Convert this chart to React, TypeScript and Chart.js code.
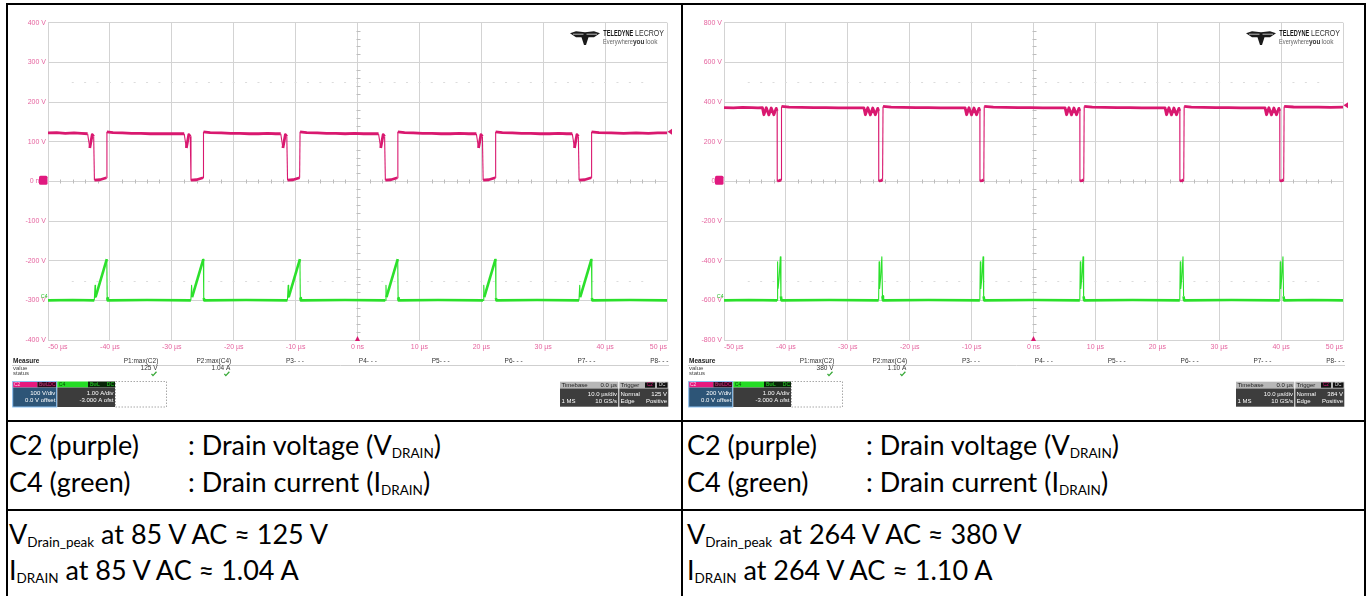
import React, { useEffect, useRef } from 'react';
import { Chart, registerables } from 'chart.js';

Chart.register(...registerables);

// ---------------- DATA ----------------
const timeTickLabels = ['-50 µs', '-40 µs', '-30 µs', '-20 µs', '-10 µs', '0 ns', '10 µs', '20 µs', '30 µs', '40 µs', '50 µs'];
const voltTickLabels85 = ['-400 V', '-300 V', '-200 V', '-100 V', '0 mV', '100 V', '200 V', '300 V', '400 V'];
const voltTickLabels264 = ['-800 V', '-600 V', '-400 V', '-200 V', '0 V', '200 V', '400 V', '600 V', '800 V'];

// C2 drain voltage at 85 V AC  [time µs, volts]
const drainV85: [number, number][] = [
  [-50, 122], [-48.6, 123], [-47.2, 121], [-45.8, 122], [-44.6, 121],
  [-43.6, 120], [-43.25, 84], [-42.85, 118], [-42.62, 113], [-42.5, 3], [-41.6, 4], [-40.55, 9], [-40.48, 125],
  [-39.5, 123], [-38, 122], [-36.5, 121], [-35, 121], [-33.5, 120], [-32, 120], [-30.5, 120], [-29, 120],
  [-28.0, 120], [-27.65, 84], [-27.25, 118], [-27.02, 113], [-26.9, 3], [-26.0, 4], [-24.95, 9], [-24.88, 125],
  [-23.8, 123], [-22, 122], [-20.5, 121], [-19, 121], [-17.5, 120], [-16, 120], [-14.5, 121], [-13.2, 120],
  [-12.4, 120], [-12.05, 84], [-11.65, 118], [-11.42, 113], [-11.3, 3], [-10.4, 4], [-9.35, 9], [-9.28, 125],
  [-8.2, 123], [-6.5, 122], [-5, 121], [-3.5, 121], [-2, 120], [-0.5, 121], [1, 120], [2.4, 120],
  [3.4, 120], [3.75, 84], [4.15, 118], [4.38, 113], [4.5, 3], [5.4, 4], [6.45, 9], [6.52, 125],
  [7.6, 123], [9, 122], [10.5, 121], [12, 121], [13.5, 120], [15, 120], [16.5, 121], [18, 120],
  [19.2, 120], [19.55, 84], [19.95, 118], [20.18, 113], [20.3, 3], [21.2, 4], [22.25, 9], [22.32, 125],
  [23.4, 123], [25, 122], [26.5, 121], [28, 121], [29.5, 120], [31, 120], [32.5, 121], [33.8, 120],
  [34.7, 120], [35.05, 84], [35.45, 118], [35.68, 113], [35.8, 3], [36.7, 4], [37.75, 9], [37.82, 125],
  [39, 123], [41, 122], [43, 121], [45, 122], [47, 121], [48.5, 122], [50, 122],
];

// C4 drain current at 85 V AC  [time µs, amps]
const drainI85: [number, number][] = [
  [-50, 0], [-46, 0.01], [-42.52, 0],
  [-42.4, 0.38], [-42.32, 0.08], [-40.5, 1.04], [-40.44, 0.06], [-40.35, 0],
  [-34, 0.01], [-26.92, 0],
  [-26.8, 0.38], [-26.72, 0.08], [-24.9, 1.04], [-24.84, 0.06], [-24.75, 0],
  [-18, 0.01], [-11.32, 0],
  [-11.2, 0.38], [-11.12, 0.08], [-9.3, 1.04], [-9.24, 0.06], [-9.15, 0],
  [-2, 0.01], [4.48, 0],
  [4.6, 0.38], [4.68, 0.08], [6.5, 1.04], [6.56, 0.06], [6.65, 0],
  [13, 0.01], [20.28, 0],
  [20.4, 0.38], [20.48, 0.08], [22.3, 1.04], [22.36, 0.06], [22.45, 0],
  [29, 0.01], [35.78, 0],
  [35.9, 0.38], [35.98, 0.08], [37.8, 1.04], [37.86, 0.06], [37.95, 0],
  [44, 0.01], [50, 0],
];

// C2 drain voltage at 264 V AC  [time µs, volts]
const drainV264: [number, number][] = [
  [-50, 372], [-48.5, 371], [-47, 373], [-45.5, 372], [-44.5, 371],
  [-43.8, 372], [-43.56, 336], [-43.17, 371], [-42.75, 335], [-42.37, 370], [-41.95, 336], [-41.56, 368], [-41.42, 355], [-41.4, 2], [-41.0, 4], [-40.78, 8], [-40.71, 378],
  [-39.5, 374], [-37.5, 373], [-35.5, 372], [-33.5, 372], [-31.5, 371], [-29.5, 371],
  [-27.4, 371], [-27.16, 336], [-26.77, 371], [-26.35, 335], [-25.97, 370], [-25.55, 336], [-25.16, 368], [-25.02, 355], [-25.0, 2], [-24.6, 4], [-24.38, 8], [-24.31, 378],
  [-23, 374], [-21, 373], [-19, 372], [-17, 372], [-15, 371], [-13, 371],
  [-11.05, 371], [-10.81, 336], [-10.42, 371], [-10.0, 335], [-9.62, 370], [-9.2, 336], [-8.81, 368], [-8.67, 355], [-8.65, 2], [-8.25, 4], [-8.03, 8], [-7.96, 378],
  [-6.5, 374], [-4.5, 373], [-2.5, 372], [-0.5, 372], [1.5, 371], [3.5, 371],
  [5.1, 371], [5.34, 336], [5.73, 371], [6.15, 335], [6.53, 370], [6.95, 336], [7.34, 368], [7.48, 355], [7.5, 2], [7.9, 4], [8.12, 8], [8.19, 378],
  [9.5, 374], [11.5, 373], [13.5, 372], [15.5, 372], [17.5, 371], [19.5, 371],
  [21.25, 371], [21.49, 336], [21.88, 371], [22.3, 335], [22.68, 370], [23.1, 336], [23.49, 368], [23.63, 355], [23.65, 2], [24.05, 4], [24.27, 8], [24.34, 378],
  [25.5, 374], [27.5, 373], [29.5, 372], [31.5, 372], [33.5, 371], [35.5, 371],
  [37.4, 371], [37.64, 336], [38.03, 371], [38.45, 335], [38.83, 370], [39.25, 336], [39.64, 368], [39.78, 355], [39.8, 2], [40.2, 4], [40.42, 8], [40.49, 378],
  [42, 375], [44, 374], [46, 374], [48, 373], [50, 374],
];

// C4 drain current at 264 V AC  [time µs, amps]
const drainI264: [number, number][] = [
  [-50, 0], [-46, 0.01], [-41.42, 0],
  [-41.34, 0.97], [-41.26, 0.3], [-41.1, 0.55], [-40.9, 1.1], [-40.8, 0.1], [-40.72, 0],
  [-33, 0.01], [-25.02, 0],
  [-24.94, 0.97], [-24.86, 0.3], [-24.7, 0.55], [-24.5, 1.1], [-24.4, 0.1], [-24.32, 0],
  [-17, 0.01], [-8.67, 0],
  [-8.59, 0.97], [-8.51, 0.3], [-8.35, 0.55], [-8.15, 1.1], [-8.05, 0.1], [-7.97, 0],
  [0, 0.01], [7.48, 0],
  [7.56, 0.97], [7.64, 0.3], [7.8, 0.55], [8.0, 1.1], [8.1, 0.1], [8.18, 0],
  [16, 0.01], [23.63, 0],
  [23.71, 0.97], [23.79, 0.3], [23.95, 0.55], [24.15, 1.1], [24.25, 0.1], [24.33, 0],
  [32, 0.01], [39.78, 0],
  [39.86, 0.97], [39.94, 0.3], [40.1, 0.55], [40.3, 1.1], [40.4, 0.1], [40.48, 0],
  [45, 0.01], [50, 0],
];

const measureNames = ['P1:max(C2)', 'P2:max(C4)', 'P3- - -', 'P4- - -', 'P5- - -', 'P6- - -', 'P7- - -', 'P8- - -'];
const measureValues85 = ['125 V', '1.04 A'];
const measureValues264 = ['380 V', '1.10 A'];
const c2Settings85 = ['100 V/div', '0.0 V offset'];
const c2Settings264 = ['200 V/div', '0.0 V offset'];
const c4Settings = ['1.00 A/div', '-3.000 A ofst'];
const timebaseInfo = ['0.0 µs', '10.0 µs/div', '1 MS', '10 GS/s'];
const triggerLevel85 = 125;
const triggerLevel264 = 384;
const cursorLevels85 = [250, -250];
const cursorLevels264 = [500, -500];

const legendChannels = ['C2 (purple)', 'C4 (green)'];
const legendMeanings = [': Drain voltage (', ': Drain current ('];
const legendSymbols = ['V', 'I'];
const acInputs = ['85', '264'];
const peakVoltages = ['125 V', '380 V'];
const peakCurrents = ['1.04 A', '1.10 A'];

// ---------------- STYLE ----------------
const PINK = '#d9186f';
const PINK_LABEL = '#e5649f';
const GREEN = '#2be02b';
const GRID = '#d3d3d3';
const SFONT = '"Liberation Sans", Arial, sans-serif';
const CW = 672;
const CH = 416;

function put(ctx: any, s: string, x: number, y: number, size: number, color: string, align = 'left', weight = 'normal', maxW?: number) {
  ctx.font = `${weight} ${size}px ${SFONT}`;
  ctx.fillStyle = color;
  ctx.textAlign = align;
  ctx.textBaseline = 'middle';
  if (maxW) ctx.fillText(s, x, y, maxW);
  else ctx.fillText(s, x, y);
}

function check(ctx: any, x: number, y: number) {
  ctx.save();
  ctx.strokeStyle = '#37a837';
  ctx.lineWidth = 1.3;
  ctx.beginPath();
  ctx.moveTo(x - 2.5, y);
  ctx.lineTo(x - 1, y + 1.8);
  ctx.lineTo(x + 2.5, y - 2);
  ctx.stroke();
  ctx.restore();
}

function rect(ctx: any, x: number, y: number, w: number, h: number, c: string) {
  ctx.fillStyle = c;
  ctx.fillRect(x, y, w, h);
}

const scopePlugin = {
  id: 'scope',
  beforeDatasetsDraw(chart: any, _args: any, o: any) {
    const { ctx, chartArea: a } = chart;
    const sx = chart.scales.x;
    const sy = chart.scales.y;
    const dx = (a.right - a.left) / 50;
    const dy = (a.bottom - a.top) / 40;
    const cx = Math.round(sx.getPixelForValue(0)) + 0.5;
    const cy = Math.round(sy.getPixelForValue(0)) + 0.5;
    ctx.save();
    ctx.strokeStyle = '#bdbdbd';
    ctx.lineWidth = 1;
    ctx.beginPath();
    for (let i = 1; i < 50; i++) {
      if (i % 5 === 0) continue;
      const px = Math.round(a.left + i * dx) + 0.5;
      ctx.moveTo(px, cy - 2);
      ctx.lineTo(px, cy + 2);
    }
    for (let j = 1; j < 40; j++) {
      if (j % 5 === 0) continue;
      const py = Math.round(a.top + j * dy) + 0.5;
      ctx.moveTo(cx - 2, py);
      ctx.lineTo(cx + 2, py);
    }
    ctx.stroke();
    ctx.strokeStyle = '#dcdcdc';
    ctx.beginPath();
    for (const lv of o.cursors) {
      const py = Math.round(sy.getPixelForValue(lv)) + 0.5;
      for (let i = 2; i < 49; i++) {
        const px = a.left + i * dx;
        ctx.moveTo(px - 1, py);
        ctx.lineTo(px + 1, py);
      }
    }
    ctx.stroke();
    ctx.restore();
  },
  afterDraw(chart: any, _args: any, o: any) {
    const { ctx, chartArea: a } = chart;
    const sx = chart.scales.x;
    const sy = chart.scales.y;
    const sI = chart.scales.yI;
    ctx.save();
    // channel marker C2 at 0 V
    const cy = sy.getPixelForValue(0);
    ctx.fillStyle = '#e0197f';
    ctx.beginPath();
    ctx.roundRect(a.left - 9, cy - 5.5, 8.5, 9, 1.5);
    ctx.fill();
    // channel marker C4 at 0 A
    const gy = sI.getPixelForValue(0);
    put(ctx, 'C4', a.left - 0.5, gy - 4, 5, '#22c022', 'right');
    // trigger level marker (right)
    const ty = sy.getPixelForValue(o.trig);
    ctx.fillStyle = PINK;
    ctx.beginPath();
    ctx.moveTo(a.right + 0.5, ty);
    ctx.lineTo(a.right + 5, ty - 3);
    ctx.lineTo(a.right + 5, ty + 3);
    ctx.closePath();
    ctx.fill();
    // trigger position marker (bottom)
    const tx = sx.getPixelForValue(0);
    ctx.beginPath();
    ctx.moveTo(tx, a.bottom - 4);
    ctx.lineTo(tx - 2.5, a.bottom + 1);
    ctx.lineTo(tx + 2.5, a.bottom + 1);
    ctx.closePath();
    ctx.fill();

    // logo
    const lx = a.right - 97;
    const ly = a.top + 8;
    ctx.fillStyle = '#1a1a1a';
    ctx.beginPath();
    ctx.moveTo(lx, ly + 2.5);
    ctx.lineTo(lx + 6, ly + 0.5);
    ctx.lineTo(lx + 15, ly + 1.5);
    ctx.lineTo(lx + 24, ly + 0.5);
    ctx.lineTo(lx + 30, ly + 2.5);
    ctx.lineTo(lx + 24, ly + 6.5);
    ctx.lineTo(lx + 18.5, ly + 6.5);
    ctx.lineTo(lx + 16, ly + 14.3);
    ctx.lineTo(lx + 14, ly + 14.3);
    ctx.lineTo(lx + 11.5, ly + 6.5);
    ctx.lineTo(lx + 6, ly + 6.5);
    ctx.closePath();
    ctx.fill();
    ctx.strokeStyle = '#ffffff';
    ctx.lineWidth = 0.7;
    ctx.beginPath();
    ctx.moveTo(lx + 13.5, ly + 3.5); ctx.lineTo(lx + 3, ly + 3.5);
    ctx.moveTo(lx + 16.5, ly + 3.5); ctx.lineTo(lx + 27, ly + 3.5);
    ctx.stroke();
    put(ctx, 'TELEDYNE', a.right - 63.7, a.top + 10.6, 8.5, '#1a1a1a', 'left', 'bold', 30);
    put(ctx, 'LECROY', a.right - 32, a.top + 10.6, 8.5, '#333', 'left', 'normal', 29);
    put(ctx, 'Everywhere', a.right - 64, a.top + 20, 6.5, '#666', 'left', 'normal', 30);
    put(ctx, 'you', a.right - 34, a.top + 20, 6.5, '#333', 'left', 'bold', 12);
    put(ctx, 'look', a.right - 21.5, a.top + 20, 6.5, '#666', 'left', 'normal', 14);

    // measure table
    put(ctx, 'Measure', 5, 356.5, 6.5, '#222', 'left', 'bold');
    ctx.strokeStyle = '#cfcfcf';
    ctx.lineWidth = 1;
    ctx.beginPath();
    ctx.moveTo(4, 360.5);
    ctx.lineTo(661, 360.5);
    ctx.stroke();
    put(ctx, 'value', 5, 363.3, 6, '#444');
    put(ctx, 'status', 5, 368.8, 6, '#444');
    measureNames.forEach((m, i) => put(ctx, m, 150.3 + i * 72.86, 356.5, 6.5, '#333', 'right'));
    (o.values as string[]).forEach((v, i) => {
      put(ctx, v, 149.5 + i * 72.86, 363.3, 6.5, '#333', 'right');
      check(ctx, 146 + i * 72.86, 368.8);
    });

    // C2 box
    rect(ctx, 4.7, 376.5, 24.6, 6, '#e5197e');
    put(ctx, 'C2', 6, 379.6, 5, '#ffd0e6');
    rect(ctx, 29.3, 376.5, 19.4, 6, '#32091d');
    put(ctx, 'BwL', 31, 379.6, 5, '#c43a7c');
    put(ctx, 'DC', 47.5, 379.6, 5, '#e5197e', 'right');
    rect(ctx, 4.7, 382.5, 44, 19.5, '#2d5577');
    put(ctx, o.c2[0], 47.3, 388.6, 6, '#ffffff', 'right');
    put(ctx, o.c2[1], 47.3, 395.4, 6, '#ffffff', 'right');
    ctx.strokeStyle = '#8ec3f2';
    ctx.lineWidth = 1;
    ctx.strokeRect(4.7, 376.5, 44, 25.5);
    // C4 box
    rect(ctx, 49.3, 376.5, 30.7, 6, '#25dd25');
    put(ctx, 'C4', 50.8, 379.6, 5, '#0b4a0b');
    rect(ctx, 80, 376.5, 27, 6, '#082508');
    put(ctx, 'BwL', 82, 379.6, 5, '#25dd25');
    put(ctx, 'DC', 106, 379.6, 5, '#25dd25', 'right');
    rect(ctx, 49.3, 382.5, 57.7, 19.5, '#3c3c3c');
    put(ctx, c4Settings[0], 105.5, 388.6, 6, '#ffffff', 'right');
    put(ctx, c4Settings[1], 105.5, 395.4, 6, '#ffffff', 'right');
    // empty box
    ctx.strokeStyle = '#a8a8a8';
    ctx.setLineDash([1.5, 1.5]);
    ctx.strokeRect(107.5, 376.5, 51, 25.5);
    ctx.setLineDash([]);
    // timebase
    rect(ctx, 552, 376.7, 58.3, 6.8, '#b7b7b7');
    put(ctx, 'Timebase', 553.5, 380.2, 6, '#222');
    put(ctx, timebaseInfo[0], 609, 380.2, 6, '#222', 'right');
    rect(ctx, 552, 383.5, 58.3, 18.2, '#3d3d3d');
    put(ctx, timebaseInfo[1], 609, 389.8, 6, '#fff', 'right');
    put(ctx, timebaseInfo[2], 553.5, 396.8, 6, '#fff');
    put(ctx, timebaseInfo[3], 609, 396.8, 6, '#fff', 'right');
    // trigger
    rect(ctx, 611.3, 376.7, 49, 6.8, '#b7b7b7');
    put(ctx, 'Trigger', 612.5, 380.2, 6, '#222');
    rect(ctx, 637, 377.5, 10, 5.2, '#111');
    put(ctx, 'C2', 642, 380.2, 4.5, '#e5197e', 'center');
    rect(ctx, 649, 377.5, 10.5, 5.2, '#111');
    put(ctx, 'DC', 654.2, 380.2, 4.5, '#ddd', 'center');
    rect(ctx, 611.3, 383.5, 49, 18.2, '#3d3d3d');
    put(ctx, 'Normal', 612.5, 389.8, 6, '#fff');
    put(ctx, `${o.trig} V`, 659, 389.8, 6, '#fff', 'right');
    put(ctx, 'Edge', 612.5, 396.8, 6, '#fff');
    put(ctx, 'Positive', 659, 396.8, 6, '#fff', 'right');
    ctx.restore();
  },
};

// thin lines for steep edges, thick (noisy-looking) lines for flat parts
const edgeWidth = (thick: number) => (c: any) => {
  const ddx = Math.abs(c.p1.x - c.p0.x);
  const ddy = Math.abs(c.p1.y - c.p0.y);
  return ddy > 6 && ddy > 6 * ddx ? 1.1 : thick;
};

function buildConfig(p: any) {
  return {
    type: 'line',
    data: {
      datasets: [
        {
          data: p.volt.map(([x, y]: [number, number]) => ({ x, y })),
          borderColor: PINK,
          borderWidth: 2.8,
          borderJoinStyle: 'round',
          pointRadius: 0,
          tension: 0,
          yAxisID: 'y',
          segment: { borderWidth: edgeWidth(2.8) },
        },
        {
          data: p.curr.map(([x, y]: [number, number]) => ({ x, y })),
          borderColor: GREEN,
          borderWidth: 2.6,
          borderJoinStyle: 'round',
          pointRadius: 0,
          tension: 0,
          yAxisID: 'yI',
          segment: { borderWidth: edgeWidth(2.6) },
        },
      ],
    },
    options: {
      animation: false,
      responsive: false,
      maintainAspectRatio: false,
      devicePixelRatio: 1,
      events: [],
      layout: { padding: { left: 0, right: 13, top: 17.7, bottom: 0 } },
      plugins: {
        legend: { display: false },
        tooltip: { enabled: false },
        scope: { cursors: p.cursors, trig: p.trig, values: p.values, c2: p.c2 },
      },
      scales: {
        x: {
          type: 'linear',
          min: -50,
          max: 50,
          ticks: {
            stepSize: 10,
            autoSkip: false,
            maxRotation: 0,
            align: 'inner',
            padding: 3,
            color: PINK_LABEL,
            font: { family: SFONT, size: 7 },
            callback: (_v: any, i: number) => timeTickLabels[i],
          },
          grid: { color: GRID, drawTicks: false, lineWidth: 1 },
          border: { color: GRID },
          afterFit: (s: any) => { s.height = CH - 335; },
        },
        y: {
          type: 'linear',
          min: p.yMin,
          max: p.yMax,
          ticks: {
            stepSize: p.yStep,
            autoSkip: false,
            padding: 2,
            color: PINK_LABEL,
            font: { family: SFONT, size: 7 },
            callback: (_v: any, i: number) => p.yLabels[i],
          },
          grid: { color: GRID, drawTicks: false, lineWidth: 1 },
          border: { color: GRID },
          afterFit: (s: any) => { s.width = 40; },
        },
        yI: { type: 'linear', display: false, min: -1, max: 7 },
      },
    },
    plugins: [scopePlugin],
  };
}

const panel85 = {
  volt: drainV85, curr: drainI85, yMin: -400, yMax: 400, yStep: 100, yLabels: voltTickLabels85,
  cursors: cursorLevels85, trig: triggerLevel85, values: measureValues85, c2: c2Settings85,
};
const panel264 = {
  volt: drainV264, curr: drainI264, yMin: -800, yMax: 800, yStep: 200, yLabels: voltTickLabels264,
  cursors: cursorLevels264, trig: triggerLevel264, values: measureValues264, c2: c2Settings264,
};

function ScopeChart({ spec, left, top }: { spec: any; left: number; top: number }) {
  const ref = useRef<HTMLCanvasElement>(null);
  useEffect(() => {
    const chart = new Chart(ref.current as HTMLCanvasElement, buildConfig(spec) as any);
    return () => chart.destroy();
  }, [spec]);
  return (
    <canvas
      ref={ref}
      width={CW}
      height={CH}
      style={{ position: 'absolute', left, top, width: CW, height: CH, display: 'block' }}
    />
  );
}

const TFONT = 'Lato, "Noto Sans", sans-serif';
const lineStyle: any = {
  position: 'absolute',
  fontFamily: TFONT,
  fontSize: 27,
  lineHeight: '36px',
  height: 36,
  whiteSpace: 'nowrap',
  color: '#000',
};
const subStyle: any = { fontSize: '0.5em', position: 'relative', top: '0.25em' };

function bar(left: number, top: number, width: number, height: number) {
  return <div style={{ position: 'absolute', left, top, width, height, background: '#000' }} />;
}

function TextCell({ x, col }: { x: number; col: number }) {
  return (
    <>
      <div style={{ ...lineStyle, left: x, top: 427 }}>{legendChannels[0]}</div>
      <div style={{ ...lineStyle, left: x + 179, top: 427 }}>
        {legendMeanings[0]}{legendSymbols[0]}<span style={subStyle}>DRAIN</span>)
      </div>
      <div style={{ ...lineStyle, left: x, top: 464 }}>{legendChannels[1]}</div>
      <div style={{ ...lineStyle, left: x + 179, top: 464 }}>
        {legendMeanings[1]}{legendSymbols[1]}<span style={subStyle}>DRAIN</span>)
      </div>
      <div style={{ ...lineStyle, left: x, top: 516 }}>
        V<span style={subStyle}>Drain_peak</span> at {acInputs[col]} V AC ≈ {peakVoltages[col]}
      </div>
      <div style={{ ...lineStyle, left: x, top: 552 }}>
        I<span style={subStyle}>DRAIN</span> at {acInputs[col]} V AC ≈ {peakCurrents[col]}
      </div>
    </>
  );
}

export default function App() {
  return (
    <div style={{ position: 'absolute', left: 0, top: 0, width: 1370, height: 596, background: '#fff', overflow: 'hidden' }}>
      <ScopeChart spec={panel85} left={8} top={5} />
      <ScopeChart spec={panel264} left={684} top={5} />
      {bar(6, 3, 1360, 2)}
      {bar(6, 3, 2, 593)}
      {bar(681, 3, 2, 593)}
      {bar(1364, 3, 2, 593)}
      {bar(6, 420, 1360, 2)}
      {bar(6, 509, 1360, 2)}
      <TextCell x={9} col={0} />
      <TextCell x={687} col={1} />
    </div>
  );
}
